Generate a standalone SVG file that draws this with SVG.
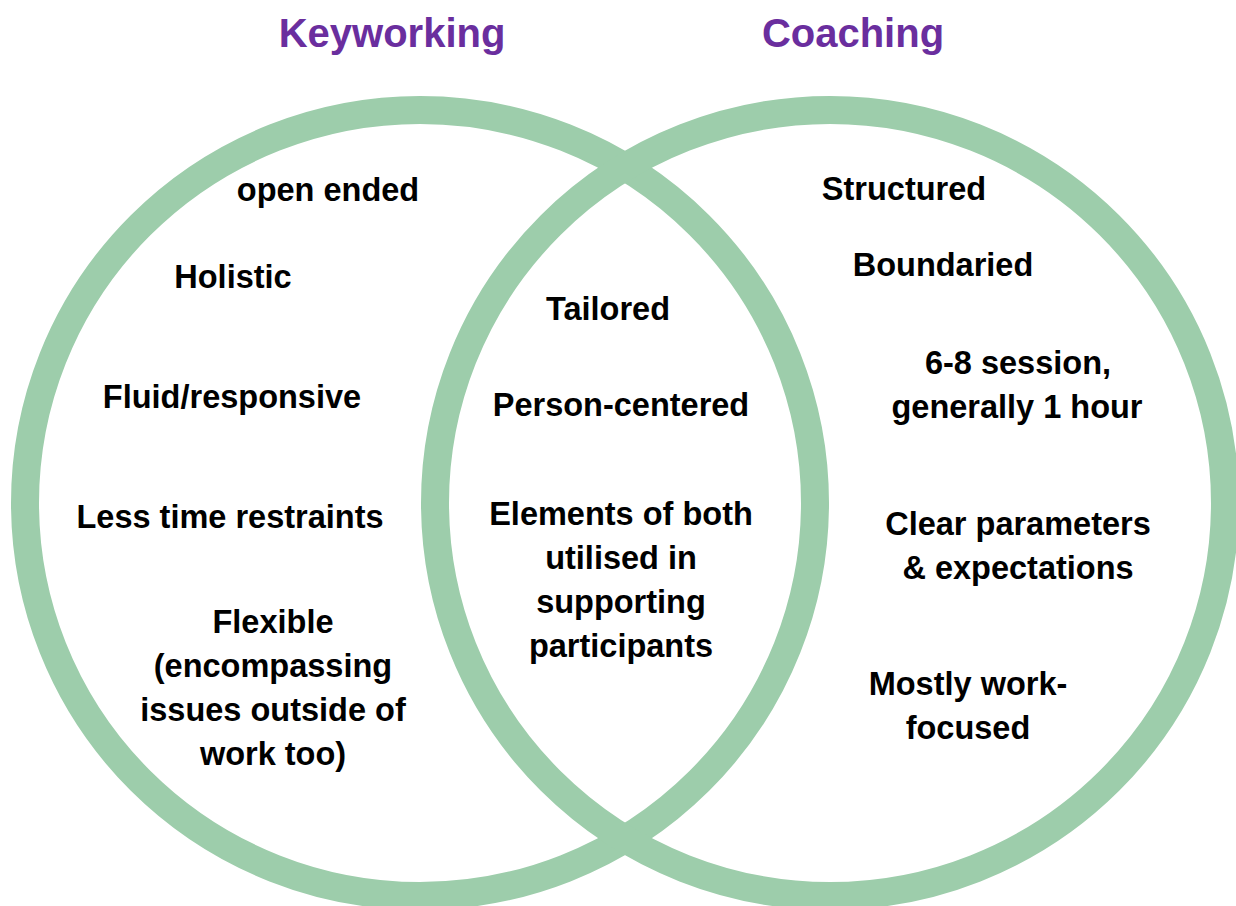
<svg xmlns="http://www.w3.org/2000/svg" width="1236" height="906" viewBox="0 0 1236 906">
  <style>
    .ring { fill: none; stroke: #9dcdab; stroke-width: 28; }
    .title { font-family: "Liberation Sans", Arial, sans-serif; font-weight: bold; font-size: 40px; fill: #6a2e9e; text-anchor: middle; }
    .item { font-family: "Liberation Sans", Arial, sans-serif; font-weight: bold; font-size: 32.5px; fill: #000; text-anchor: middle; }
  </style>
  <rect width="1236" height="906" fill="#ffffff"/>

  <g id="connectors">
    <ellipse id="ring-keyworking" class="ring" cx="420" cy="503" rx="395" ry="393"/>
    <ellipse id="ring-coaching" class="ring" cx="830" cy="503" rx="395" ry="393"/>
  </g>

  <g id="title-keyworking"><text class="title" x="392" y="47">Keyworking</text></g>
  <g id="title-coaching"><text class="title" x="853" y="47">Coaching</text></g>

  <g id="keyworking-items">
    <text class="item" x="328" y="201">open ended</text>
    <text class="item" x="233" y="288">Holistic</text>
    <text class="item" x="232" y="408">Fluid/responsive</text>
    <text class="item" x="230" y="528">Less time restraints</text>
    <text class="item" x="273" y="633">Flexible</text>
    <text class="item" x="273" y="677">(encompassing</text>
    <text class="item" x="273" y="721">issues outside of</text>
    <text class="item" x="273" y="765">work too)</text>
  </g>

  <g id="shared-items">
    <text class="item" x="608" y="320">Tailored</text>
    <text class="item" x="621" y="416">Person-centered</text>
    <text class="item" x="621" y="525">Elements of both</text>
    <text class="item" x="621" y="569">utilised in</text>
    <text class="item" x="621" y="613">supporting</text>
    <text class="item" x="621" y="657">participants</text>
  </g>

  <g id="coaching-items">
    <text class="item" x="904" y="200">Structured</text>
    <text class="item" x="943" y="276">Boundaried</text>
    <text class="item" x="1018" y="374">6-8 session,</text>
    <text class="item" x="1017" y="418">generally 1 hour</text>
    <text class="item" x="1018" y="535">Clear parameters</text>
    <text class="item" x="1018" y="579">&amp; expectations</text>
    <text class="item" x="968" y="695">Mostly work-</text>
    <text class="item" x="968" y="739">focused</text>
  </g>
</svg>
